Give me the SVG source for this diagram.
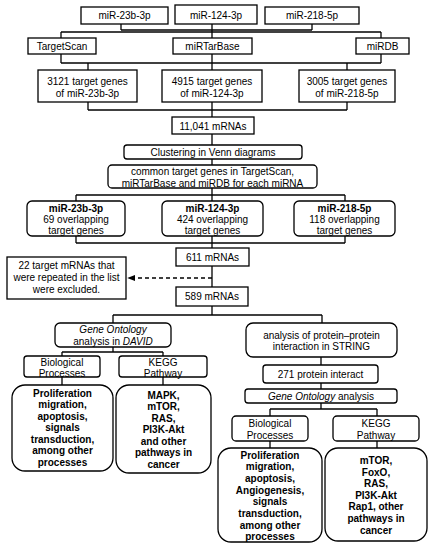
<svg xmlns="http://www.w3.org/2000/svg" width="433" height="550" viewBox="0 0 433 550">
<defs>
<style>
.b{fill:#fff;stroke:#000;stroke-width:1.3}
.c line,.c path{stroke:#000;stroke-width:1.3;fill:none}
text{font-family:"Liberation Sans",Arial,sans-serif;font-size:10px;fill:#000;text-anchor:middle}
.bd{font-weight:bold}
.it{font-style:italic}
</style>
<marker id="ah" viewBox="0 0 10 10" refX="9" refY="5" markerWidth="6" markerHeight="6" orient="auto-start-reverse">
<path d="M0,1 L10,5 L0,9 z" fill="#000"/>
</marker>
</defs>
<rect width="433" height="550" fill="#fff"/>
<g class="c" id="connectors">
<line x1="121" y1="24" x2="121" y2="30"/>
<line x1="312" y1="24" x2="312" y2="30"/>
<line x1="121" y1="30" x2="312" y2="30"/>
<line x1="212" y1="24" x2="212" y2="38"/>
<line x1="61" y1="32" x2="381" y2="32"/>
<line x1="61" y1="32" x2="61" y2="38"/>
<line x1="381" y1="32" x2="381" y2="38"/>
<line x1="61" y1="54" x2="61" y2="63"/>
<line x1="381" y1="54" x2="381" y2="63"/>
<line x1="61" y1="63" x2="381" y2="63"/>
<line x1="212" y1="54" x2="212" y2="70"/>
<line x1="88" y1="63" x2="88" y2="70"/>
<line x1="347" y1="63" x2="347" y2="70"/>
<line x1="88" y1="102" x2="88" y2="110"/>
<line x1="347" y1="102" x2="347" y2="110"/>
<line x1="88" y1="110" x2="347" y2="110"/>
<line x1="212" y1="102" x2="212" y2="117"/>
<line x1="212" y1="134" x2="212" y2="145"/>
<line x1="212" y1="159" x2="212" y2="165"/>
<line x1="212" y1="188" x2="212" y2="201"/>
<line x1="76" y1="195" x2="345" y2="195"/>
<line x1="76" y1="195" x2="76" y2="201"/>
<line x1="345" y1="195" x2="345" y2="201"/>
<line x1="76" y1="236" x2="76" y2="243"/>
<line x1="345" y1="236" x2="345" y2="243"/>
<line x1="76" y1="243" x2="345" y2="243"/>
<line x1="212" y1="236" x2="212" y2="248"/>
<line x1="212" y1="266" x2="212" y2="287"/>
<line x1="212" y1="278" x2="128" y2="278" stroke-dasharray="4,3" marker-end="url(#ah)"/>
<line x1="212" y1="306" x2="212" y2="315"/>
<line x1="113" y1="315" x2="322" y2="315"/>
<line x1="113" y1="315" x2="113" y2="323"/>
<line x1="322" y1="315" x2="322" y2="323"/>
<line x1="113" y1="347" x2="113" y2="352"/>
<line x1="62" y1="352" x2="163" y2="352"/>
<line x1="62" y1="352" x2="62" y2="356"/>
<line x1="163" y1="352" x2="163" y2="356"/>
<line x1="62" y1="377" x2="62" y2="385"/>
<line x1="163" y1="377" x2="163" y2="385"/>
<line x1="321" y1="357" x2="321" y2="365"/>
<line x1="321" y1="383" x2="321" y2="389"/>
<line x1="321" y1="403" x2="321" y2="409"/>
<line x1="270" y1="409" x2="377" y2="409"/>
<line x1="270" y1="409" x2="270" y2="416"/>
<line x1="377" y1="409" x2="377" y2="416"/>
<line x1="270" y1="441" x2="270" y2="448"/>
<line x1="377" y1="441" x2="377" y2="448"/>
</g>
<g id="n-mir23"><rect class="b" x="81" y="7" width="87" height="17"/><text x="124.5" y="19">miR-23b-3p</text></g>
<g id="n-mir124"><rect class="b" x="175" y="5" width="82" height="19"/><text x="216" y="18.5">miR-124-3p</text></g>
<g id="n-mir218"><rect class="b" x="265" y="7" width="94" height="17"/><text x="312" y="19">miR-218-5p</text></g>
<g id="n-targetscan"><rect class="b" x="28" y="38" width="68" height="16"/><text x="62" y="49.5">TargetScan</text></g>
<g id="n-mirtarbase"><rect class="b" x="173" y="38" width="79" height="16"/><text x="212.5" y="49.5">miRTarBase</text></g>
<g id="n-mirdb"><rect class="b" x="356" y="38" width="53" height="16"/><text x="382.5" y="49.5">miRDB</text></g>
<g id="n-3121"><rect class="b" x="38" y="70" width="99" height="32"/><text x="87.5" y="85">3121 target genes</text><text x="87.5" y="97">of miR-23b-3p</text></g>
<g id="n-4915"><rect class="b" x="162" y="70" width="100" height="32"/><text x="212" y="85">4915 target genes</text><text x="212" y="97">of miR-124-3p</text></g>
<g id="n-3005"><rect class="b" x="299" y="70" width="96" height="32"/><text x="347" y="85">3005 target genes</text><text x="347" y="97">of miR-218-5p</text></g>
<g id="n-11041"><rect class="b" x="172" y="117" width="82" height="17"/><text x="213" y="129.5">11,041 mRNAs</text></g>
<g id="n-cluster"><rect class="b" x="124" y="145" width="178" height="14" rx="3"/><text x="213" y="156">Clustering in Venn diagrams</text></g>
<g id="n-common"><rect class="b" x="108" y="165" width="209" height="23" rx="4"/><text x="212.5" y="175">common target genes in TargetScan,</text><text x="212.5" y="186.5">miRTarBase and miRDB for each miRNA</text></g>
<g id="n-ov23"><rect class="b" x="27" y="201" width="98" height="35" rx="5"/><text class="bd" x="76" y="211.5">miR-23b-3p</text><text x="76" y="222.5">69 overlapping</text><text x="76" y="233.5">target genes</text></g>
<g id="n-ov124"><rect class="b" x="162" y="201" width="101" height="35" rx="5"/><text class="bd" x="212.5" y="211.5">miR-124-3p</text><text x="212.5" y="222.5">424 overlapping</text><text x="212.5" y="233.5">target genes</text></g>
<g id="n-ov218"><rect class="b" x="294" y="201" width="101" height="35" rx="5"/><text class="bd" x="344.5" y="211.5">miR-218-5p</text><text x="344.5" y="222.5">118 overlapping</text><text x="344.5" y="233.5">target genes</text></g>
<g id="n-611"><rect class="b" x="176" y="248" width="73" height="18"/><text x="212.5" y="261">611 mRNAs</text></g>
<g id="n-excluded"><rect class="b" x="7" y="257" width="119" height="42"/><text x="66.5" y="268.5">22 target mRNAs that</text><text x="66.5" y="281">were repeated in the list</text><text x="66.5" y="293">were excluded.</text></g>
<g id="n-589"><rect class="b" x="176" y="287" width="72" height="19"/><text x="212" y="299.5">589 mRNAs</text></g>
<g id="n-go-david"><rect class="b" x="55" y="323" width="116" height="24" rx="5"/><text class="it" x="113" y="333">Gene Ontology</text><text x="113" y="345">analysis in <tspan class="it">DAVID</tspan></text></g>
<g id="n-string"><rect class="b" x="246" y="323" width="151" height="34" rx="7"/><text x="321.5" y="338.5">analysis of protein–protein</text><text x="321.5" y="350">interaction in STRING</text></g>
<g id="n-bio1"><rect class="b" x="24" y="356" width="76" height="21" rx="3"/><text x="62" y="365.5">Biological</text><text x="62" y="377">Processes</text></g>
<g id="n-kegg1"><rect class="b" x="119" y="356" width="88" height="21" rx="3"/><text x="163" y="365.5">KEGG</text><text x="163" y="377">Pathway</text></g>
<g id="n-res1"><rect class="b" x="12" y="385" width="101" height="86" rx="13"/>
<text class="bd" x="62.5" y="396.5">Proliferation</text><text class="bd" x="62.5" y="408">migration,</text><text class="bd" x="62.5" y="419.5">apoptosis,</text><text class="bd" x="62.5" y="431">signals</text><text class="bd" x="62.5" y="442.5">transduction,</text><text class="bd" x="62.5" y="454">among other</text><text class="bd" x="62.5" y="465.5">processes</text></g>
<g id="n-res2"><rect class="b" x="116" y="385" width="95" height="88" rx="13"/>
<text class="bd" x="163.5" y="398.5">MAPK,</text><text class="bd" x="163.5" y="410">mTOR,</text><text class="bd" x="163.5" y="421.5">RAS,</text><text class="bd" x="163.5" y="433">PI3K-Akt</text><text class="bd" x="163.5" y="444.5">and other</text><text class="bd" x="163.5" y="456">pathways in</text><text class="bd" x="163.5" y="467.5">cancer</text></g>
<g id="n-271"><rect class="b" x="263" y="365" width="115" height="18" rx="3"/><text x="320.5" y="377.5">271 protein interact</text></g>
<g id="n-go2"><rect class="b" x="245" y="389" width="152" height="14" rx="3"/><text x="321" y="400"><tspan class="it">Gene Ontology</tspan> analysis</text></g>
<g id="n-bio2"><rect class="b" x="232" y="416" width="76" height="25" rx="4"/><text x="270" y="427">Biological</text><text x="270" y="438.5">Processes</text></g>
<g id="n-kegg2"><rect class="b" x="333" y="416" width="86" height="25" rx="4"/><text x="376" y="427">KEGG</text><text x="376" y="438.5">Pathway</text></g>
<g id="n-res3"><rect class="b" x="218" y="448" width="104" height="94" rx="13"/>
<text class="bd" x="270" y="458.5">Proliferation</text><text class="bd" x="270" y="470.2">migration,</text><text class="bd" x="270" y="481.9">apoptosis,</text><text class="bd" x="270" y="493.6">Angiogenesis,</text><text class="bd" x="270" y="505.3">signals</text><text class="bd" x="270" y="517">transduction,</text><text class="bd" x="270" y="528.7">among other</text><text class="bd" x="270" y="540.4">processes</text></g>
<g id="n-res4"><rect class="b" x="325" y="448" width="102" height="93" rx="13"/>
<text class="bd" x="376" y="464">mTOR,</text><text class="bd" x="376" y="475.6">FoxO,</text><text class="bd" x="376" y="487.2">RAS,</text><text class="bd" x="376" y="498.8">PI3K-Akt</text><text class="bd" x="376" y="510.4">Rap1, other</text><text class="bd" x="376" y="522">pathways in</text><text class="bd" x="376" y="533.6">cancer</text></g>
</svg>
